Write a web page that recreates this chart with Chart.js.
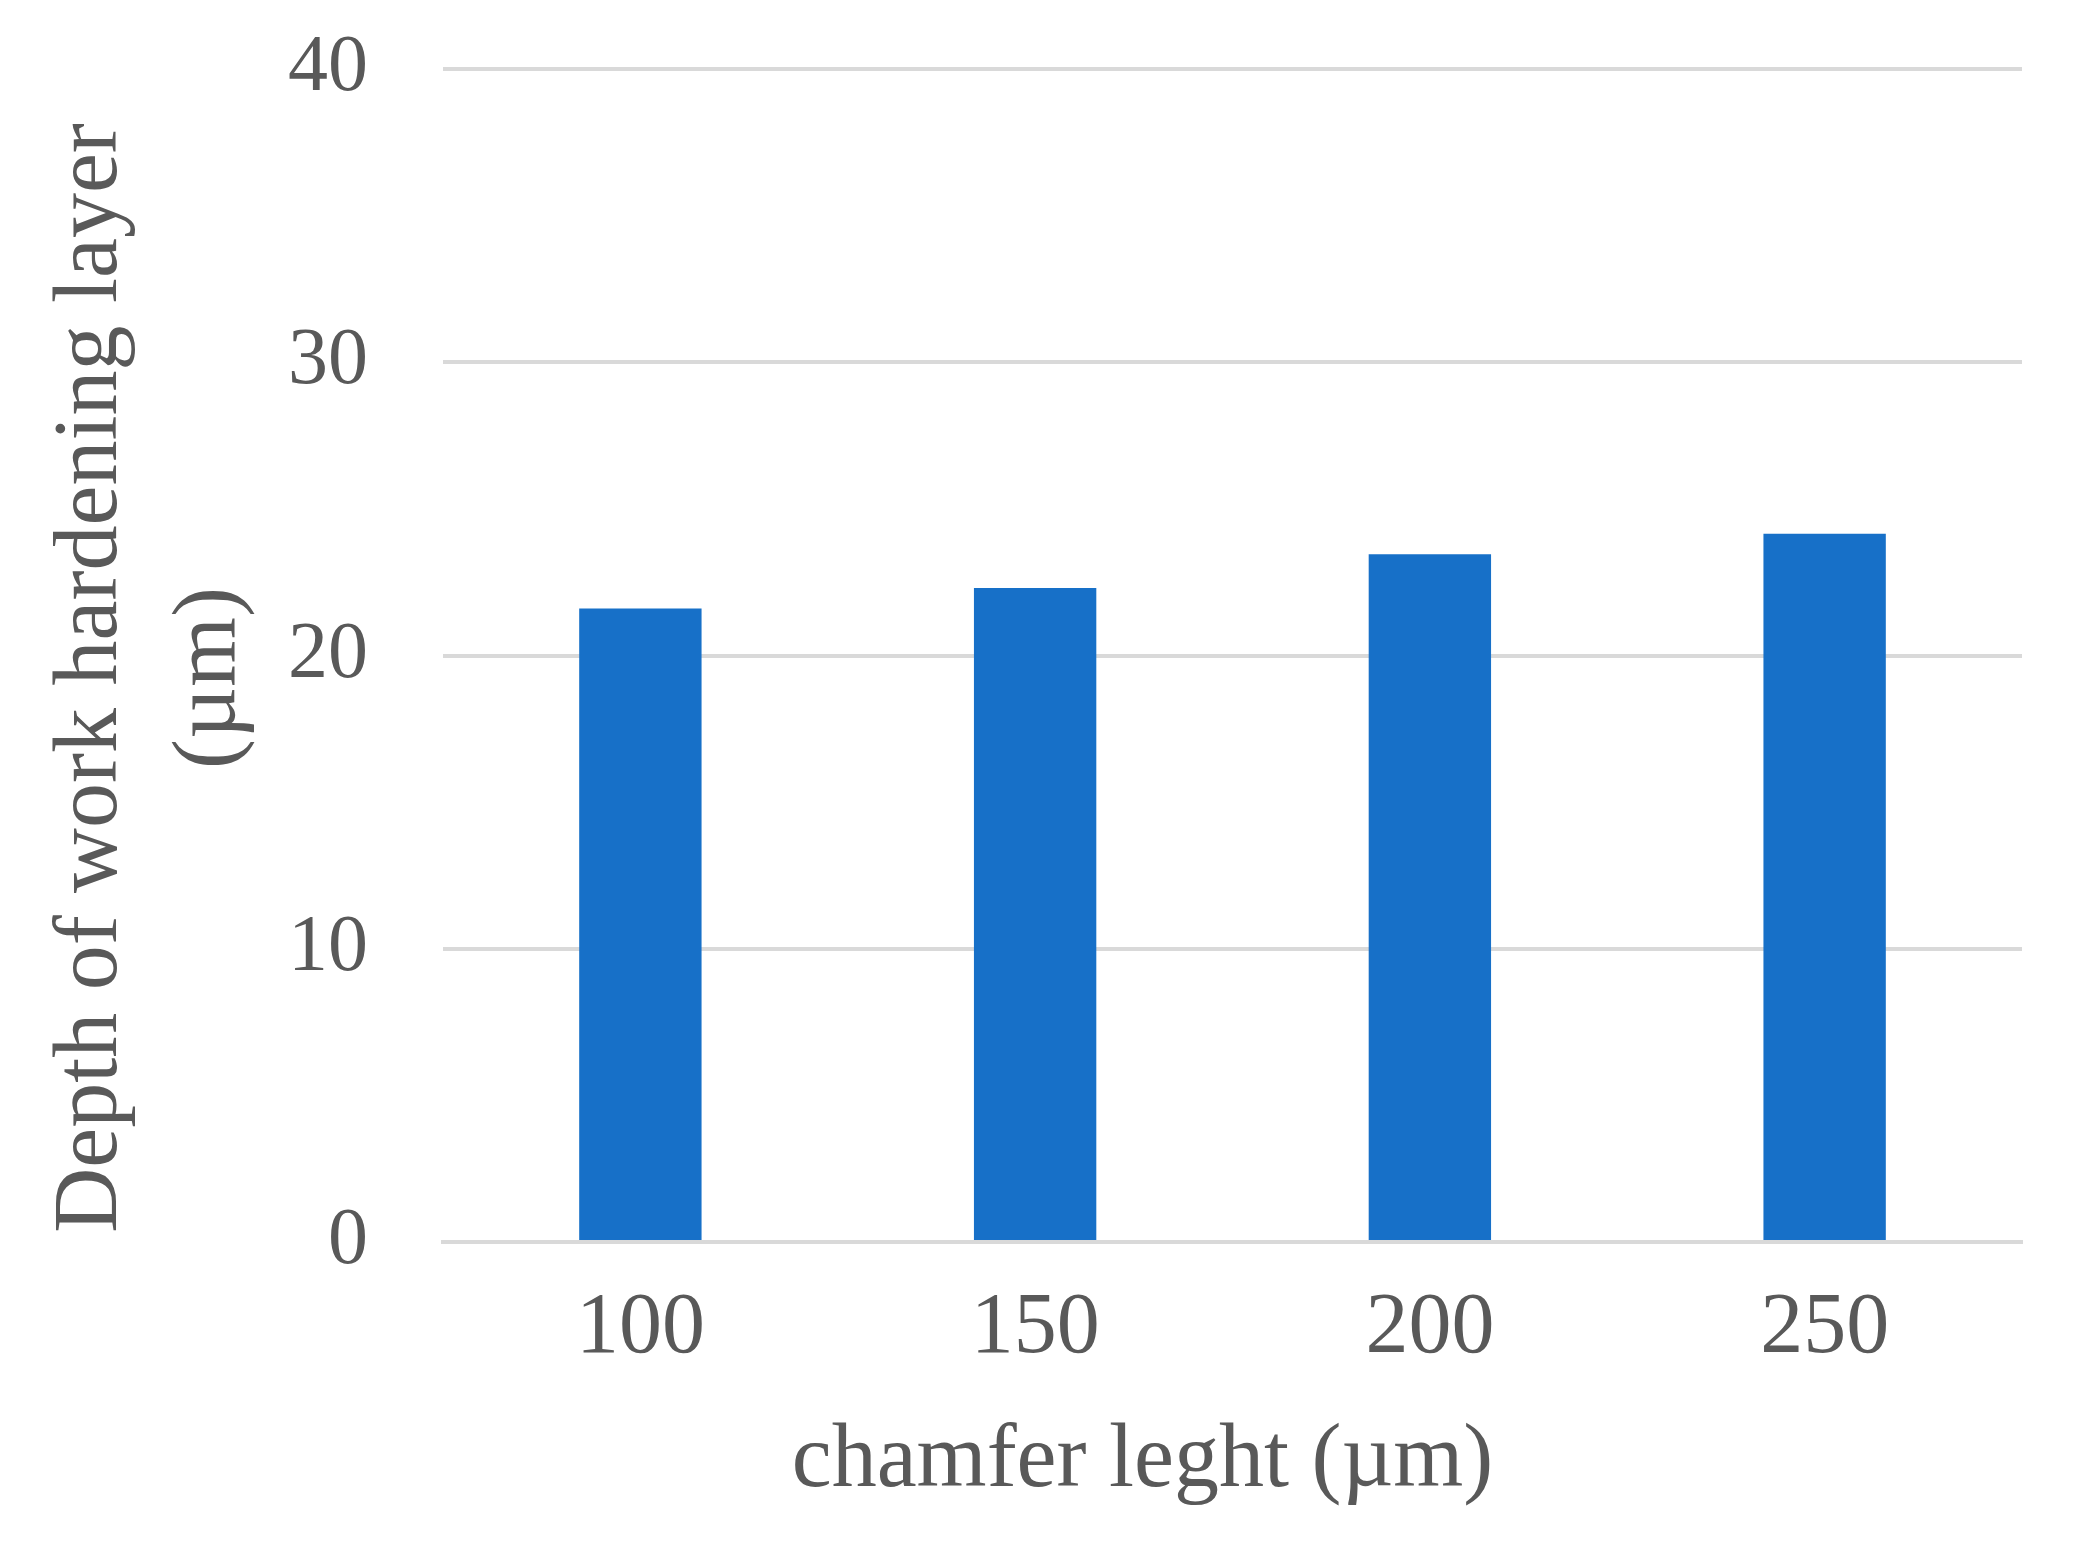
<!DOCTYPE html>
<html>
<head>
<meta charset="utf-8">
<script src="https://cdn.jsdelivr.net/npm/chart.js@4/dist/chart.umd.min.js"></script>
<style>
  html, body { margin: 0; padding: 0; background: #fff; }
  #graph { display: block; }
</style>
</head>
<body>
<canvas id="graph" width="2075" height="1549"></canvas>
<script>
// values
let categories = ['100', '150', '200', '250'];
let depth = [21.6, 22.3, 23.45, 24.15];
let yTicks = [0, 10, 20, 30, 40];

let serif = "'Liberation Serif', 'Times New Roman', serif";
let grey = '#595959';
let nb = '\u00a0';

let ctx = document.getElementById('graph').getContext('2d');
let bars = new Chart(ctx, {
  type: 'bar',
  data: {
    labels: categories,
    datasets: [{
      data: depth,
      backgroundColor: '#1770c8',
      barPercentage: 0.31,
      categoryPercentage: 1
    }]
  },
  options: {
    responsive: false,
    animation: false,
    layout: { padding: { top: 69, right: 53, left: 0, bottom: 0 } },
    plugins: {
      legend: { display: false },
      tooltip: { enabled: false }
    },
    scales: {
      x: {
        grid: { display: false, drawTicks: false },
        border: { display: true, color: '#d9d9d9', width: 4 },
        ticks: { color: grey, font: { family: serif, size: 86 }, padding: 36 },
        title: {
          display: true,
          // trailing spaces nudge the centred title left like the original
          text: 'chamfer leght (µm)' + nb.repeat(8),
          color: grey,
          font: { family: serif, size: 90 },
          padding: { top: 0, bottom: 33 }
        },
        afterFit: s => { s.height = 307; }
      },
      y: {
        min: 0,
        max: 40,
        afterBuildTicks: s => { s.ticks = yTicks.map(v => ({ value: v })); },
        grid: { color: '#d9d9d9', lineWidth: 4, drawTicks: false },
        border: { display: false },
        ticks: { color: grey, font: { family: serif, size: 80 }, padding: 75 },
        title: {
          display: true,
          text: ['Depth of work hardening layer' + nb.repeat(2), '(µm)' + nb.repeat(2)],
          color: grey,
          font: { family: serif, size: 90, lineHeight: 1.32 },
          padding: { top: 33, bottom: 0 }
        },
        afterFit: s => {
          s.width = 443;
          s.paddingTop = 0;
          s.paddingBottom = 0;
        }
      }
    }
  }
});
</script>
</body>
</html>
